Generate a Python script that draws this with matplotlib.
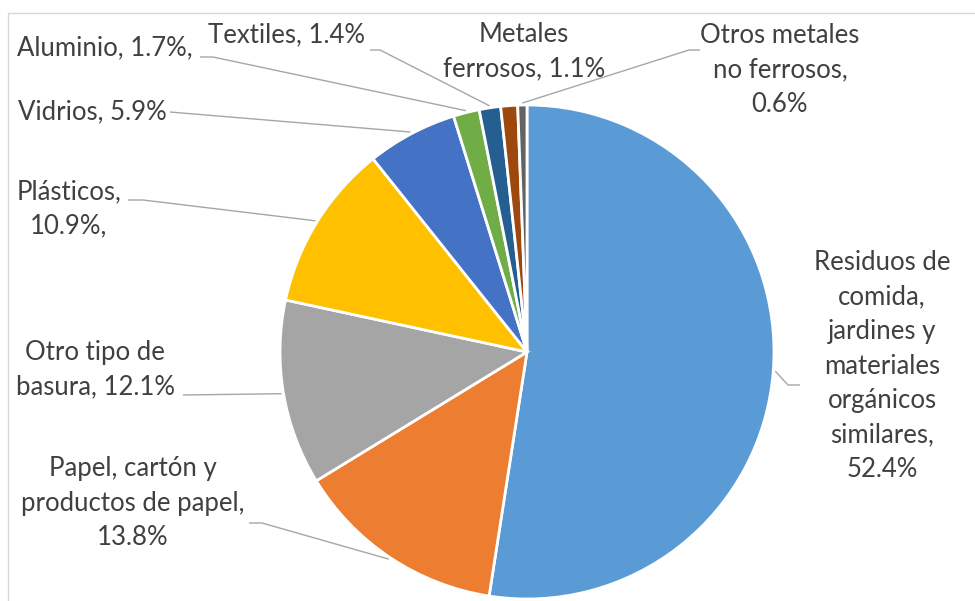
import numpy as np
import matplotlib
matplotlib.use("Agg")
import matplotlib.pyplot as plt

# waste composition, percent
categories = ["Residuos de\ncomida,\njardines y\nmateriales\norgánicos\nsimilares,",
              "Papel, cartón y\nproductos de papel,",
              "Otro tipo de\nbasura,",
              "Plásticos,",
              "Vidrios,",
              "Aluminio,",
              "Textiles,",
              "Metales\nferrosos,",
              "Otros metales\nno ferrosos,"]
values = [52.4, 13.8, 12.1, 10.9, 5.9, 1.7, 1.4, 1.1, 0.6]
value_sep = ["\n", "\n", " ", "\n", " ", " ", " ", " ", "\n"]
value_tail = ["", "", "", ",", "", ",", "", "", ""]
colors = ["#5B9BD5", "#ED7D31", "#A5A5A5", "#FFC000", "#4472C4",
          "#70AD47", "#255E91", "#9E480E", "#636363"]

W, H = 975, 601
fig = plt.figure(figsize=(W / 100, H / 100), dpi=100)
ax = fig.add_axes([0, 0, 1, 1])

cx, cy, R = 527, 352, 247


def px(x, y):
    return x, H - y


ax.pie(values, colors=colors, startangle=90, counterclock=False,
       center=px(cx, cy), radius=R,
       wedgeprops=dict(edgecolor="white", linewidth=2))
ax.set_xlim(0, W)
ax.set_ylim(0, H)
ax.set_aspect("equal")
ax.axis("off")

# label centres and leader elbows (pixel layout, y down)
label_pos = [(882, 366), (133, 503), (95, 370), (69, 209), (92, 112),
             (105, 48), (287, 35), (524, 52), (780, 70)]
leaders = [[(800, 385), (788, 385)],
           [(249, 523), (262, 523)],
           [(183, 395), (183, 395)],
           [(128, 200), (143, 200)],
           [(170, 112), (182, 113)],
           [(200, 57), (213, 57)],
           [(370, 50), (380, 50)],
           None,
           [(700, 50), (689, 50)]]

fracs = np.array(values) / sum(values)
ends = np.cumsum(fracs)
mids = ends - fracs / 2

for i, lab in enumerate(categories):
    text = f"{lab}{value_sep[i]}{values[i]:.1f}%{value_tail[i]}"
    x, y = label_pos[i]
    ax.text(*px(x, y), text, ha="center", va="center", multialignment="center",
            fontsize=18.5, color="#404040", family=["Lato", "DejaVu Sans"],
            linespacing=1.47)
    if leaders[i] is None:
        continue
    ang = 2 * np.pi * mids[i]
    ex = cx + (R + 2) * np.sin(ang)
    ey = cy - (R + 2) * np.cos(ang)
    pts = leaders[i] + [(ex, ey)]
    xs = [p[0] for p in pts]
    ys = [H - p[1] for p in pts]
    ax.plot(xs, ys, color="#A6A6A6", linewidth=1.0, solid_capstyle="butt")

# chart area border
ax.plot([8, 8, W], [0, H - 13, H - 13], color="#D9D9D9", linewidth=1.0)

fig.savefig("out.png", dpi=100)
